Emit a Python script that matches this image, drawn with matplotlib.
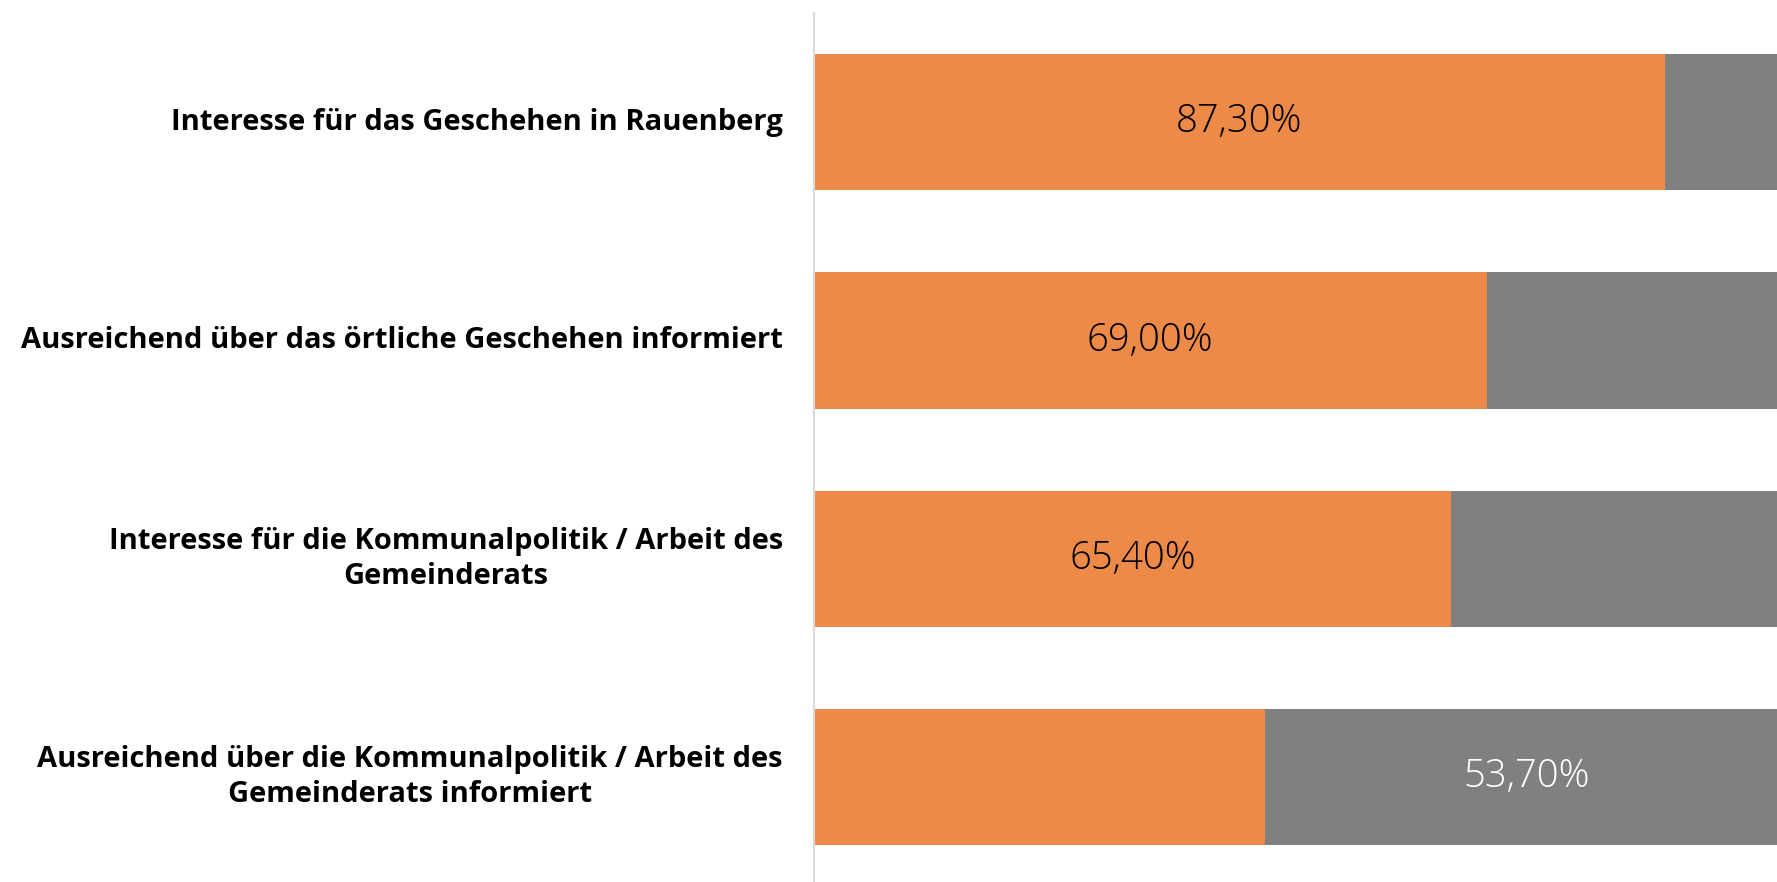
import matplotlib
matplotlib.use('Agg')
import matplotlib.pyplot as plt
import numpy as np

# data
categories = [
    'Interesse für das Geschehen in Rauenberg',
    'Ausreichend über das örtliche Geschehen informiert',
    'Interesse für die Kommunalpolitik / Arbeit des\nGemeinderats',
    'Ausreichend über die Kommunalpolitik / Arbeit des\nGemeinderats informiert',
]
ja = [87.3, 69.0, 65.4, 46.3]
nein = [12.7, 31.0, 34.6, 53.7]
ja_labels = ['87,30%', '69,00%', '65,40%', None]
nein_labels = [None, None, None, '53,70%']

ORANGE = '#EE8A47'
GRAY = '#808080'

fig = plt.figure(figsize=(17.77, 8.82), dpi=100)
ax = fig.add_axes([814 / 1777, 0.0, 1 - 814 / 1777, 1 - 13 / 882])

y = np.arange(len(categories))
ax.barh(y, ja, height=0.623, color=ORANGE, linewidth=0)
ax.barh(y, nein, left=ja, height=0.623, color=GRAY, linewidth=0)

for i in range(len(categories)):
    if ja_labels[i]:
        ax.text(ja[i] / 2, i, ja_labels[i], ha='center', va='center',
                fontsize=27.5, family='Open Sans', fontweight=300, color='black')
    if nein_labels[i]:
        ax.text(ja[i] + nein[i] / 2, i, nein_labels[i], ha='center', va='center',
                fontsize=27.5, family='Open Sans', fontweight=300, color='white')
    ax.text(-3.2, i, categories[i], ha='right', va='center', multialignment='center',
            fontsize=21, family='Open Sans', fontweight='bold', color='black',
            linespacing=1.25)

ax.set_xlim(0, 98.8)
ax.set_ylim(3.48, -0.5)
ax.set_xticks([])
ax.set_yticks([])
for s in ['top', 'right', 'bottom']:
    ax.spines[s].set_visible(False)
ax.spines['left'].set_color('#d9d9d9')
ax.spines['left'].set_linewidth(1.5)

fig.savefig('out.png', dpi=100, facecolor='white')
